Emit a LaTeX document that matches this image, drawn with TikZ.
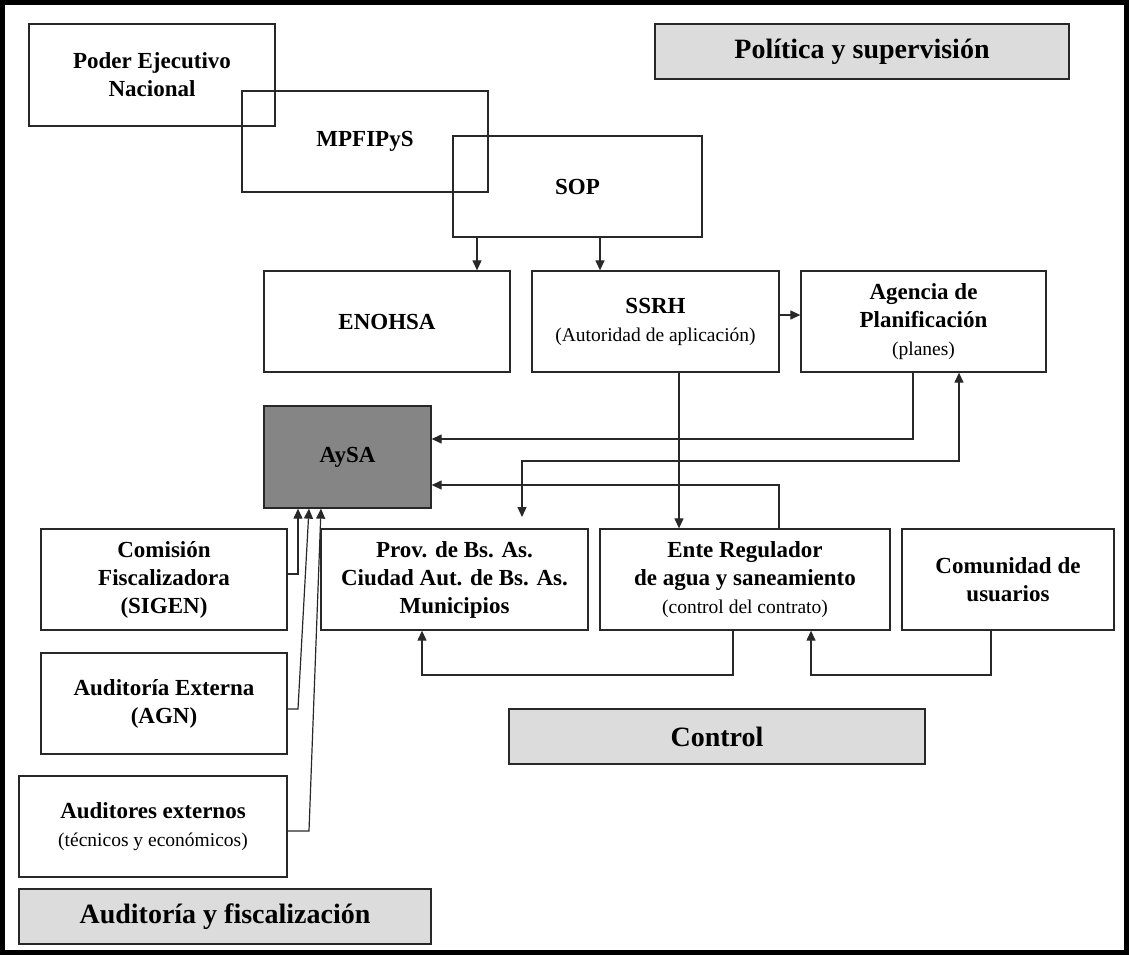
\documentclass[tikz,border=0pt]{standalone}
\usepackage{fontspec}
\setmainfont{Liberation Serif}
\usetikzlibrary{arrows.meta}
\definecolor{labelgray}{RGB}{220,220,220}
\definecolor{aysagray}{RGB}{133,133,133}
\definecolor{linegray}{RGB}{40,40,40}
\newcommand{\subtxt}[1]{{\fontsize{19.5}{24}\selectfont\mdseries #1}}

\begin{document}
\begin{tikzpicture}[x=1pt,y=-1pt,
  box/.style={draw=linegray,line width=1.3pt,rectangle,inner sep=0pt,align=center,
    font=\fontsize{23}{28}\selectfont\bfseries},
  lab/.style={box,fill=labelgray,minimum height=55pt,font=\fontsize{28}{32}\selectfont\bfseries},
  con/.style={line width=1.2pt,draw=linegray,-{Triangle[length=10pt,width=9pt]}},
  conboth/.style={line width=1.2pt,draw=linegray,{Triangle[length=10pt,width=9pt]}-{Triangle[length=10pt,width=9pt]}}]
\useasboundingbox (0,0) rectangle (1129,955);
\draw[line width=5pt] (2.5,2.5) rectangle (1126.5,952.5);
\node[box,minimum width=246pt,minimum height=102pt] (poder) at (152,75) {Poder Ejecutivo\\Nacional};
\node[box,minimum width=246pt,minimum height=101pt] (mpf) at (365,141.5) {MPFIPyS};
\node[box,minimum width=249pt,minimum height=101pt] (sop) at (577.5,186.5) {SOP};
\node[box,minimum width=246pt,minimum height=101pt] (enohsa) at (387,321.5) {ENOHSA};
\node[box,minimum width=247pt,minimum height=101pt] (ssrh) at (655.5,321.5) {SSRH\\\subtxt{(Autoridad de aplicación)}};
\node[box,minimum width=245pt,minimum height=101pt] (agencia) at (923.5,321.5) {Agencia de\\Planificación\\\subtxt{(planes)}};
\node[box,fill=aysagray,minimum width=167pt,minimum height=102pt] (aysa) at (347.5,457) {AySA};
\node[box,minimum width=246pt,minimum height=101pt] (comision) at (164,579.5) {Comisión\\Fiscalizadora\\(SIGEN)};
\node[box,minimum width=246pt,minimum height=101pt] (audext) at (164,703.5) {Auditoría Externa\\(AGN)};
\node[box,minimum width=268pt,minimum height=101pt] (auditores) at (153,826.5) {Auditores externos\\\subtxt{(técnicos y económicos)}};
\node[box,minimum width=267pt,minimum height=101pt] (prov) at (454.5,579.5) {Prov. de Bs. As.\\Ciudad Aut. de Bs. As.\\Municipios};
\node[box,minimum width=290pt,minimum height=101pt] (ente) at (745,579.5) {Ente Regulador\\de agua y saneamiento\\\subtxt{(control del contrato)}};
\node[box,minimum width=212pt,minimum height=101pt] (comunidad) at (1008,579.5) {Comunidad de\\usuarios};
\node[lab,minimum width=414pt] (politica) at (862,51.5) {Política y supervisión};
\node[lab,minimum width=416pt] (control) at (717,736.5) {Control};
\node[lab,minimum width=412pt] (audfis) at (225,916.5) {Auditoría y fiscalización};
\coordinate (provin) at (522,517);
\draw[con] (477,0 |- sop.south) -- (477,0 |- enohsa.north);
\draw[con] (600,0 |- sop.south) -- (600,0 |- ssrh.north);
\draw[con] (ssrh.east |- 0,315) -- (agencia.west |- 0,315);
\draw[con] (913,0 |- agencia.south) -- (913,439) -- (aysa.east |- 0,439);
\draw[conboth] (provin) -- (522,461) -- (959,461) -- (959,0 |- agencia.south);
\draw[con] (679,0 |- ssrh.south) -- (679,0 |- ente.north);
\draw[con] (779,0 |- ente.north) -- (779,485) -- (aysa.east |- 0,485);
\draw[con] (comision.east |- 0,574) -- (298,574) -- (298,0 |- aysa.south);
\draw[con] (audext.east |- 0,709) -- (298,709) -- (309,0 |- aysa.south);
\draw[con] (auditores.east |- 0,831) -- (309,831) -- (321,0 |- aysa.south);
\draw[con] (733,0 |- ente.south) -- (733,675) -- (422,675) -- (422,0 |- prov.south);
\draw[con] (991,0 |- comunidad.south) -- (991,675) -- (811,675) -- (811,0 |- ente.south);
\end{tikzpicture}
\end{document}
